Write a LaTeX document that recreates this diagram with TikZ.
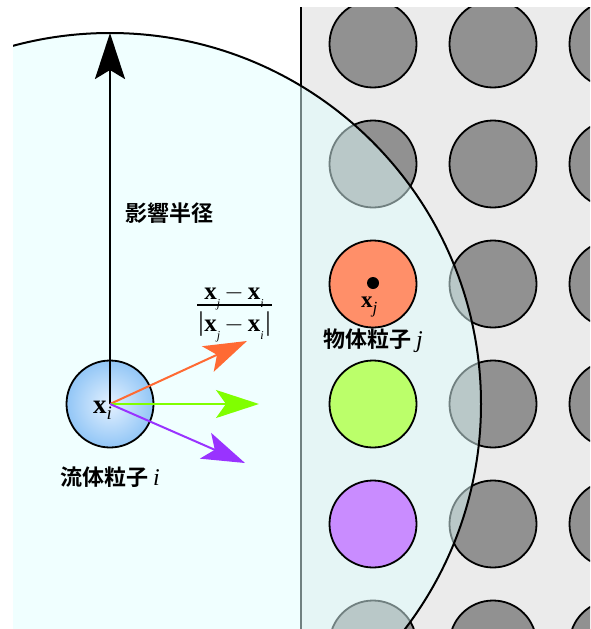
\documentclass[tikz,border=0pt]{standalone}
\usepackage{fontspec}
\newfontfamily\cjk{Noto Sans CJK JP}[BoldFont={Noto Sans CJK JP Bold}]
\newfontfamily\tms{Liberation Serif}
\usetikzlibrary{arrows.meta}
\definecolor{bggrey}{HTML}{EBEBEB}
\definecolor{pgrey}{HTML}{919191}
\definecolor{cyanfill}{HTML}{E1FFFF}
\definecolor{porange}{HTML}{FF8F69}
\definecolor{pgreen}{HTML}{BBFF6A}
\definecolor{ppurple}{HTML}{C98CFF}
\definecolor{fluidin}{HTML}{E4F1FF}
\definecolor{fluidout}{HTML}{92C6F6}
\definecolor{aorange}{HTML}{FF6A33}
\definecolor{agreen}{HTML}{80FF00}
\definecolor{apurple}{HTML}{9933FF}
\newcommand\bx{{\tms\bfseries x}}
\newcommand\sbi[1]{\raisebox{-0.35em}{\tms\itshape\fontsize{12}{12}\selectfont #1}}
\tikzset{
  particle/.style={circle, draw=black, line width=1.8pt, minimum size=87pt, inner sep=0pt},
  greyp/.style={particle, fill=pgrey},
  fluid/.style={particle, inner color=fluidin, outer color=fluidout},
  cjklabel/.style={font=\cjk\bfseries\fontsize{22}{24}\selectfont, inner sep=0pt},
  vlabel/.style={font=\tms\fontsize{26}{28}\selectfont, inner sep=0pt},
  vecarrow/.style={line width=2pt, -{Stealth[length=43pt, width=28pt, inset=10pt]}},
}
\begin{document}
\begin{tikzpicture}[x=1pt, y=-1pt]
\useasboundingbox (0,0) rectangle (590,629);
% solid region
\fill[bggrey] (300,7) rectangle (590,629);
\coordinate (wtop) at (301,7);
\coordinate (wbot) at (301,629);
\draw[line width=2.2pt] (wtop) -- (wbot);
\begin{scope}
  \clip (300,7) rectangle (590,629);
  \foreach \cx/\cy in {373/44,373/164,373/644,
                       493/44,493/164,493/284,493/404,493/524,493/644,
                       613/44,613/164,613/284,613/404,613/524,613/644}
    \node[greyp] (g\cx-\cy) at (\cx,\cy) {};
\end{scope}
% influence radius circle
\coordinate (pi) at (110,404);
\begin{scope}
  \clip (13,0) rectangle (590,629);
  \fill[cyanfill, opacity=0.5] (pi) circle[radius=371pt];
  \draw[line width=2pt] (pi) circle[radius=371pt];
\end{scope}
% coloured solid particles
\node[particle, fill=porange] (oj) at (373,284) {};
\node[particle, fill=pgreen] (gj) at (373,404) {};
\node[particle, fill=ppurple] (pj) at (373,524) {};
\node[circle, fill=black, minimum size=12pt, inner sep=0pt] (dotj) at (373,283) {};
% fluid particle
\node[fluid] (fi) at (pi) {};
% arrows
\coordinate (rtop) at (110,33);
\coordinate (oend) at (247,341);
\coordinate (gend) at (259,404);
\coordinate (pend) at (245,463);
\draw[line width=2.5pt, -{Stealth[length=46pt, width=30pt, inset=9pt]}] (fi.center) -- (rtop);
\draw[vecarrow, aorange] (fi.center) -- (oend);
\draw[vecarrow, agreen] (fi.center) -- (gend);
\draw[vecarrow, apurple] (fi.center) -- (pend);
% labels
\node[cjklabel] (lrad) at (169,213) {影響半径};
\node[cjklabel] (lsolid) at (373,341) {物体粒子 {\tms\mdseries\itshape\fontsize{24}{24}\selectfont j}};
\node[cjklabel] (lfluid) at (110,477) {流体粒子 {\tms\mdseries\itshape\fontsize{24}{24}\selectfont i}};
\node[vlabel, font=\tms\fontsize{27}{28}\selectfont, anchor=base west] (lxi) at (93,413)
  {\bx\raisebox{-0.25em}{\tms\itshape\fontsize{19}{19}\selectfont i}};
\node[vlabel, font=\tms\fontsize{23}{24}\selectfont, anchor=base west] (lxj) at (361,307)
  {\bx\raisebox{-0.3em}{\tms\itshape\fontsize{17}{17}\selectfont j}};
\node[vlabel, font=\tms\fontsize{25}{26}\selectfont, anchor=base] (lnum) at (234,299)
  {\bx\sbi{j}\,$-$\,\bx\sbi{i}};
\coordinate (barl) at (197,305);
\coordinate (barr) at (272,305);
\draw[line width=1.3pt] (barl) -- (barr);
\node[vlabel, font=\tms\fontsize{25}{26}\selectfont, anchor=base] (lden) at (234,331)
  {\bx\sbi{j}\,$-$\,\bx\sbi{i}};
\node[font=\fontsize{27}{28}\selectfont, inner sep=0pt] (vl) at (201,324) {\tms|};
\node[font=\fontsize{27}{28}\selectfont, inner sep=0pt] (vr) at (268,324) {\tms|};
\end{tikzpicture}
\end{document}
